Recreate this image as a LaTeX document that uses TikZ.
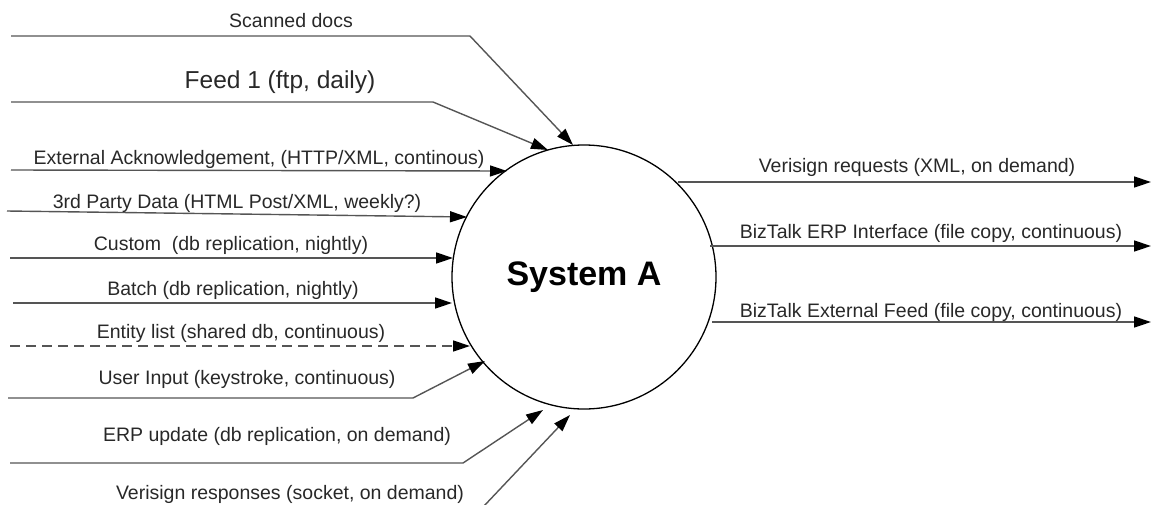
\documentclass[tikz,border=0pt]{standalone}
\usepackage{fontspec}
\setmainfont{Liberation Sans}
\usetikzlibrary{arrows.meta}
\tikzset{
  flowline/.style={draw={rgb,255:red,85;green,85;blue,85},line width=1.4pt,-{Triangle[length=17pt,width=11pt,color=black]}},
  flowlabel/.style={inner sep=0.75pt,text={rgb,255:red,40;green,40;blue,40},font=\fontsize{19.5}{22}\selectfont}
}
\begin{document}
\begin{tikzpicture}[x=1pt,y=1pt,yscale=-1,xscale=1]
\useasboundingbox (0,0) rectangle (1152,504);

%Shape: Circle [id:sys]
\node (sys) [circle,draw,line width=1.3pt,minimum size=264pt,inner sep=0pt,font=\fontsize{34}{38}\selectfont\bfseries] at (584,277) {System A};

%Coordinates: free ends, corners and tips
\coordinate (sScan) at (11,36);   \coordinate (kScan) at (470,36);  \coordinate (tScan) at (573,145);
\coordinate (sFeed) at (11,102);  \coordinate (kFeed) at (433,102); \coordinate (tFeed) at (548,150);
\coordinate (sExt) at (11,170);   \coordinate (tExt) at (507,171);
\coordinate (sThird) at (7,211);  \coordinate (tThird) at (467,217);
\coordinate (sCustom) at (10,258); \coordinate (tCustom) at (453,258);
\coordinate (sBatch) at (13,303); \coordinate (tBatch) at (452,303);
\coordinate (sEntity) at (10,346); \coordinate (tEntity) at (470,346);
\coordinate (sUser) at (8,398);   \coordinate (kUser) at (413,398); \coordinate (tUser) at (485,361);
\coordinate (sErp) at (10,463);   \coordinate (kErp) at (463,463);  \coordinate (tErp) at (543,410);
\coordinate (sVresp) at (484,506); \coordinate (tVresp) at (570,415);
\coordinate (sVreq) at (678,182); \coordinate (tVreq) at (1151,182);
\coordinate (sBizErp) at (710,246); \coordinate (tBizErp) at (1151,246);
\coordinate (sBizExt) at (712,322); \coordinate (tBizExt) at (1151,322);

%Straight Lines: inputs
\draw [flowline] (sScan) -- (kScan) -- (tScan);
\draw [flowline] (sFeed) -- (kFeed) -- (tFeed);
\draw [flowline] (sExt) -- (tExt);
\draw [flowline] (sThird) -- (tThird);
\draw [flowline] (sCustom) -- (tCustom);
\draw [flowline] (sBatch) -- (tBatch);
\draw [flowline,dash pattern=on 10pt off 6pt] (sEntity) -- (tEntity);
\draw [flowline] (sUser) -- (kUser) -- (tUser);
\draw [flowline] (sErp) -- (kErp) -- (tErp);
\draw [flowline] (sVresp) -- (tVresp);
%Straight Lines: outputs
\draw [flowline] (sVreq) -- (tVreq);
\draw [flowline] (sBizErp) -- (tBizErp);
\draw [flowline] (sBizExt) -- (tBizExt);

% Text Node
\node (lScan) [flowlabel] at (291,21) {Scanned docs};
% Text Node
\node (lFeed) [flowlabel,font=\fontsize{24.5}{28}\selectfont] at (280,82) {Feed 1 (ftp, daily)};
% Text Node
\node (lExt) [flowlabel] at (259,159) {External Acknowledgement, (HTTP/XML, continous)};
% Text Node
\node (lThird) [flowlabel] at (237,203) {3rd Party Data (HTML Post/XML, weekly?)};
% Text Node
\node (lCustom) [flowlabel] at (231,245) {Custom~~(db replication, nightly)};
% Text Node
\node (lBatch) [flowlabel] at (233,290) {Batch (db replication, nightly)};
% Text Node
\node (lEntity) [flowlabel] at (241,333) {Entity list (shared db, continuous)};
% Text Node
\node (lUser) [flowlabel] at (247,379) {User Input (keystroke, continuous)};
% Text Node
\node (lErp) [flowlabel] at (277,436) {ERP update (db replication, on demand)};
% Text Node
\node (lVresp) [flowlabel] at (290,494) {Verisign responses (socket, on demand)};
% Text Node
\node (lVreq) [flowlabel] at (917,167) {Verisign requests (XML, on demand)};
% Text Node
\node (lBizErp) [flowlabel] at (931,233) {BizTalk ERP Interface (file copy, continuous)};
% Text Node
\node (lBizExt) [flowlabel] at (931,312) {BizTalk External Feed (file copy, continuous)};

\end{tikzpicture}
\end{document}
